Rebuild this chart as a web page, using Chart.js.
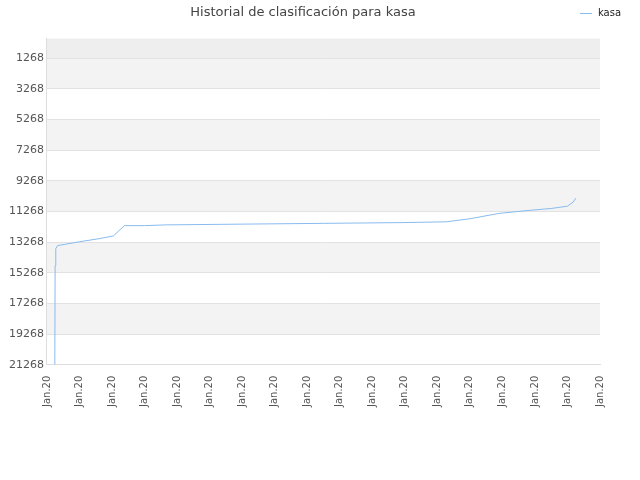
<!DOCTYPE html>
<html><head><meta charset="utf-8">
<script src="https://cdn.jsdelivr.net/npm/chart.js@4"></script>
<style>body{margin:0;background:#fff}#w{width:640px;height:480px}</style>
</head><body><div id="w"><canvas id="c"></canvas></div>
<script>
const xLabels = ["Jan.20","Jan.20","Jan.20","Jan.20","Jan.20","Jan.20","Jan.20","Jan.20","Jan.20","Jan.20","Jan.20","Jan.20","Jan.20","Jan.20","Jan.20","Jan.20","Jan.20","Jan.20"];
const yTicks = [1268,3268,5268,7268,9268,11268,13268,15268,17268,19268,21268];
const posX = [0.24,0.25,0.27,0.33,1.0,1.6,2.04,2.38,3.0,3.65,6.03,8.5,10.97,12.27,13.0,13.9,14.84,15.5,16.0,16.17,16.26];
const rankY = [21268,14800,13700,13500,13250,13050,12870,12200,12200,12150,12100,12050,12000,11950,11750,11400,11200,11080,10930,10670,10400];
const bands = {id:'bands',beforeDraw(ch){const {ctx,chartArea:a,scales:{y}}=ch;ctx.save();
 ctx.fillStyle='#eeeeee';ctx.fillRect(a.left,a.top,a.right-a.left,y.getPixelForValue(1268)-a.top);
 for(let i=0;i<yTicks.length-1;i+=2){const t=y.getPixelForValue(yTicks[i]),b=y.getPixelForValue(yTicks[i+1]);ctx.fillStyle='#f3f3f3';ctx.fillRect(a.left,t,a.right-a.left,b-t);}
 ctx.restore();},
 afterDraw(ch){const ctx=ch.ctx;ctx.save();ctx.strokeStyle='#88bbee';ctx.lineWidth=1;ctx.beginPath();ctx.moveTo(580,13.5);ctx.lineTo(592,13.5);ctx.stroke();
 ctx.fillStyle='#222';ctx.font='10px "DejaVu Sans"';ctx.textBaseline='middle';ctx.fillText(ch.data.datasets[0].label,598,13);ctx.restore();}};
new Chart(document.getElementById('c'),{type:'line',
 data:{datasets:[{label:'kasa',data:posX.map((x,i)=>({x,y:rankY[i]})),borderColor:'#88bbee',borderWidth:1,pointRadius:0,tension:0,fill:false}]},
 options:{responsive:true,maintainAspectRatio:false,animation:false,
  layout:{padding:{left:6,right:40,top:0,bottom:70}},
  plugins:{title:{display:true,text:'Historial de clasificación para kasa',color:'#444',font:{family:'DejaVu Sans',size:13,weight:'normal'},padding:{top:5,bottom:18}},
   legend:{display:false},tooltip:{enabled:false}},
  scales:{
   x:{type:'linear',min:0,max:17,afterBuildTicks(s){s.ticks=xLabels.map((_,i)=>({value:i}));},
    ticks:{callback:(v)=>xLabels[v],maxRotation:90,minRotation:90,color:'#555',font:{family:'DejaVu Sans',size:10},autoSkip:false},
    grid:{display:false},border:{color:'#ddd'}},
   y:{reverse:true,min:0,max:21268,afterBuildTicks(s){s.ticks=yTicks.map(v=>({value:v}));},
    ticks:{callback:(v)=>String(v),color:'#555',font:{family:'DejaVu Sans',size:11},autoSkip:false},
    grid:{color:'#e2e2e2',drawTicks:false},border:{color:'#ddd'}}}},
 plugins:[bands]});
</script></body></html>
